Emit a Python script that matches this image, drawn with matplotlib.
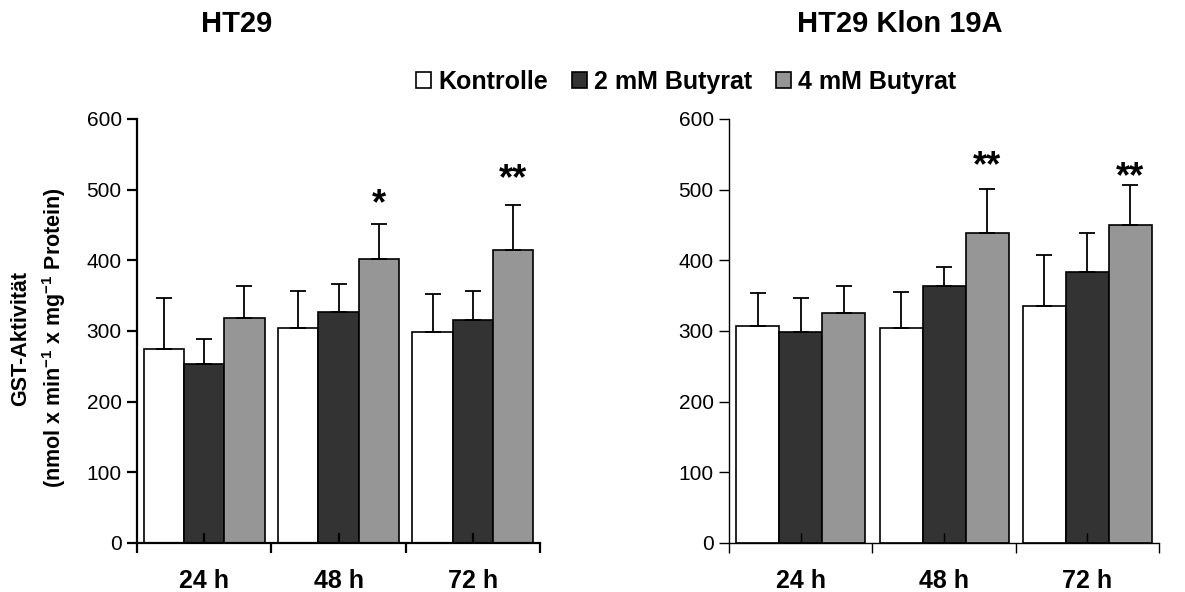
import matplotlib
matplotlib.use('Agg')
import matplotlib.pyplot as plt
import numpy as np
from matplotlib.patches import Patch

plt.rcParams['font.family'] = ['Liberation Sans', 'DejaVu Sans']
plt.rcParams['mathtext.fontset'] = 'custom'
plt.rcParams['mathtext.rm'] = 'Liberation Sans'
plt.rcParams['mathtext.bf'] = 'Liberation Sans:bold'

# Daten
zeiten = ['24 h', '48 h', '72 h']
gruppen = ['Kontrolle', '2 mM Butyrat', '4 mM Butyrat']
farben = ['#ffffff', '#333333', '#969696']

# Mittelwerte / SD je Gruppe (Zeile) und Zeitpunkt (Spalte)
ht29_mittel = [[275, 304, 298], [253, 327, 315], [318, 402, 414]]
ht29_sd = [[71, 53, 54], [36, 40, 42], [45, 49, 65]]
ht29_sterne = {(2, 1): '*', (2, 2): '**'}

klon_mittel = [[307, 304, 336], [299, 364, 384], [325, 438, 450]]
klon_sd = [[47, 51, 71], [48, 26, 54], [39, 63, 56]]
klon_sterne = {(2, 1): '**', (2, 2): '**'}

fig = plt.figure(figsize=(11.85, 5.92), dpi=100)
ax1 = fig.add_axes([137 / 1185, 1 - 543 / 592, 403 / 1185, 424 / 592])
ax2 = fig.add_axes([729 / 1185, 1 - 543 / 592, 430 / 1185, 424 / 592])


def panel(ax, mittel, sd, sterne, stern_abstand, lw):
    x = np.arange(len(zeiten)) + 0.5
    breite = 0.3
    for i, (m, s, c) in enumerate(zip(mittel, sd, farben)):
        pos = x + (i - 1) * breite
        ax.bar(pos, m, width=breite, color=c, edgecolor='black', linewidth=1.2, zorder=1)
        ax.errorbar(pos, m, yerr=[np.zeros(len(s)), s], fmt='none', ecolor='black',
                    elinewidth=1.3, capsize=5.5, capthick=1.3, zorder=2)
        for j in range(len(m)):
            if (i, j) in sterne:
                ax.text(pos[j], m[j] + s[j] + stern_abstand[j], sterne[(i, j)],
                        ha='center', va='bottom', fontsize=26, fontweight='bold')
    ax.set_xlim(0, 3)
    ax.set_ylim(0, 600)
    ax.set_yticks(range(0, 601, 100))
    ax.set_xticks(x)
    ax.set_xticklabels(zeiten, fontsize=18, fontweight='bold')
    ax.set_xticks([0, 1, 2, 3], minor=True)
    ax.tick_params(axis='x', which='major', direction='in', length=7, width=lw, pad=19)
    ax.tick_params(axis='x', which='minor', direction='out', length=7, width=lw)
    ax.tick_params(axis='y', direction='out', length=7, width=lw, labelsize=15, pad=4)
    for sp in ['top', 'right']:
        ax.spines[sp].set_visible(False)
    for sp in ['left', 'bottom']:
        ax.spines[sp].set_linewidth(lw)


panel(ax1, ht29_mittel, ht29_sd, ht29_sterne, [0, 3, 11], 1.6)
panel(ax2, klon_mittel, klon_sd, klon_sterne, [0, 7, -14], 1.0)

fig.text(237 / 1185, 1 - 24 / 592, 'HT29', ha='center', va='center', fontsize=21, fontweight='bold')
fig.text(900 / 1185, 1 - 24 / 592, 'HT29 Klon 19A', ha='center', va='center', fontsize=21, fontweight='bold')

fig.text(39 / 1185, 1 - 338 / 592,
         'GST-Aktivität\n(nmol x min$^{\\mathbf{-1}}$ x mg$^{\\mathbf{-1}}$ Protein)',
         rotation=90, ha='center', va='center', fontsize=15.5, fontweight='bold',
         multialignment='center', linespacing=1.45)

handles = [Patch(facecolor=c, edgecolor='black', linewidth=1.2) for c in farben]
fig.legend(handles, gruppen, loc='center', bbox_to_anchor=(686 / 1185, 1 - 82 / 592), ncol=3,
           frameon=False, handlelength=0.6, handleheight=0.6, handletextpad=0.3,
           columnspacing=0.95, borderpad=0, prop={'size': 18, 'weight': 'bold'})

fig.savefig('out.png', dpi=100)
